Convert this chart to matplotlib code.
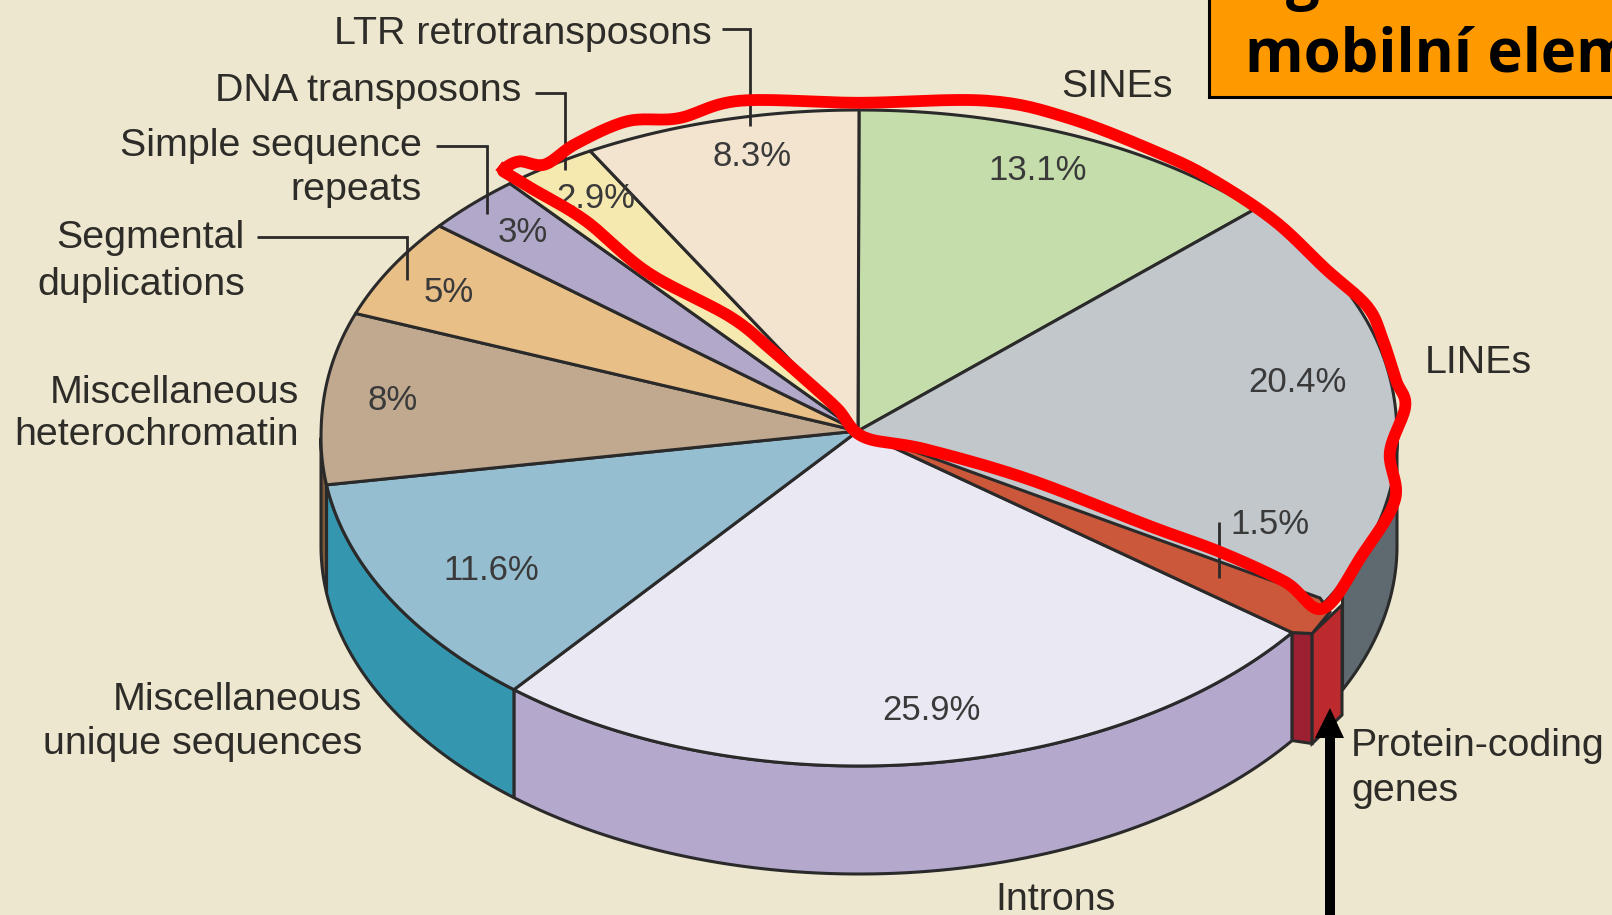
import numpy as np
import matplotlib
matplotlib.use("Agg")
import matplotlib.pyplot as plt
from matplotlib.patches import Polygon, Rectangle

# ---- data (clockwise from 12 o'clock) ----
categories = ["SINEs", "LINEs", "Protein-coding genes", "Introns", "Miscellaneous unique sequences",
              "Miscellaneous heterochromatin", "Segmental duplications", "Simple sequence repeats",
              "DNA transposons", "LTR retrotransposons"]
values = [13.1, 20.4, 1.5, 25.9, 11.6, 8, 5, 3, 2.9, 8.3]
value_labels = ["13.1%", "20.4%", "1.5%", "25.9%", "11.6%", "8%", "5%", "3%", "2.9%", "8.3%"]
top_colors = ["#C5DCAB", "#C1C7CB", "#CB583A", "#E9E8F3", "#96BED1",
              "#C0A98F", "#E9BF88", "#B2A8CA", "#F5E9B0", "#F3E4D0"]
side_colors = ["#C5DCAB", "#5F6A70", "#BC2A2D", "#B4A9CD", "#3496AF",
               "#7A5A3A", "#E9BF88", "#B2A8CA", "#F5E9B0", "#F3E4D0"]
pct_pos = [(1038, 170), (1297, 382), (1270, 525), (931, 710), (491, 571),
           (393, 400), (449, 293), (523, 232), (596, 198), (752, 156)]

# name, ha, x, y of each line
label_lines = [("LTR retrotransposons", "right", 712, 34), ("DNA transposons", "right", 521, 91),
               ("Simple sequence", "right", 422, 146), ("repeats", "right", 422, 190),
               ("Segmental", "right", 245, 238), ("duplications", "right", 245, 285),
               ("Miscellaneous", "right", 299, 393), ("heterochromatin", "right", 299, 435),
               ("Miscellaneous", "right", 362, 700), ("unique sequences", "right", 362, 744),
               ("SINEs", "left", 1061, 87), ("LINEs", "left", 1425, 363),
               ("Protein-coding", "left", 1351, 746), ("genes", "left", 1351, 791),
               ("Introns", "left", 995, 900)]
leaders = [[(722, 29), (750, 29), (750, 126)], [(535, 93), (565, 93), (565, 170)],
           [(436, 146), (487, 146), (487, 214)], [(257, 237), (407, 237), (407, 280)],
           [(1219, 522), (1219, 578)]]

# freehand red outline drawn over the picture
red_outline = np.array([(490, 165), (505, 157), (530, 160), (560, 140), (610, 118), (660, 115), (720, 98),
                        (835, 100), (960, 98), (1040, 115), (1130, 150), (1180, 175), (1240, 215), (1290, 262),
                        (1330, 298), (1345, 330), (1358, 370), (1367, 395), (1352, 440), (1357, 486), (1325, 540),
                        (1287, 592), (1250, 566), (1187, 537), (1119, 512), (1000, 466), (900, 437), (840, 425),
                        (815, 398), (790, 375), (750, 340), (710, 308), (630, 265), (570, 215), (520, 185),
                        (495, 170)], float) * 1.028

BG = "#EDE7CF"
INK = "#2B2A2A"
CX, CY, RX, RY, DEPTH = 859, 438, 538, 328, 108
APEX = (858, 431)
FONT = "Liberation Sans"

fig = plt.figure(figsize=(16.12, 9.15), dpi=100, facecolor=BG)
ax = fig.add_axes([0, 0, 1, 1])
ax.set_xlim(0, 1612)
ax.set_ylim(915, 0)
ax.axis("off")


def rim(deg, dy=0):
    t = np.radians(deg)
    c = np.cos(t)
    # the far half of the drawn disc bulges a little beyond a true ellipse
    v = np.where(c > 0, np.abs(c) ** 0.93, c)
    return np.column_stack([CX + RX * np.sin(t), CY - RY * v + dy])


edges = np.concatenate([[0], np.cumsum(values)]) / sum(values) * 360
PROTEIN = 2
WALL_END_LINES = 116.0   # where the LINEs wall meets the protein notch

# side walls
for i, (a, b) in enumerate(zip(edges[:-1], edges[1:])):
    lo, hi = max(a, 90), min(b, 270)
    if i == 1:
        hi = WALL_END_LINES
    if i == PROTEIN or hi <= lo:
        continue
    arc = np.linspace(lo, hi, 80)
    pts = np.vstack([rim(arc), rim(arc[::-1], DEPTH)])
    ax.add_patch(Polygon(pts, closed=True, fc=side_colors[i], ec=INK, lw=2.2, joinstyle="round", zorder=2))

# top faces
for i, (a, b) in enumerate(zip(edges[:-1], edges[1:])):
    if i == PROTEIN:
        continue
    arc = np.linspace(a, b, 120)
    pts = np.vstack([[APEX], rim(arc)])
    ax.add_patch(Polygon(pts, closed=True, fc=top_colors[i], ec=INK, lw=2.2, joinstyle="round", zorder=3))

# protein-coding wedge, which juts out of the rim
p_in = rim(edges[PROTEIN + 1])[0]
corner = (p_in[0] + 20, p_in[1] + 1)
p_out = (1342, 605)
ax.add_patch(Polygon([(p_in[0], p_in[1]), corner, (corner[0], corner[1] + DEPTH + 2), (p_in[0], p_in[1] + DEPTH)],
                     closed=True, fc="#9C2032", ec=INK, lw=2.2, zorder=4))
ax.add_patch(Polygon([corner, p_out, (p_out[0], p_out[1] + DEPTH + 2), (corner[0], corner[1] + DEPTH + 2)],
                     closed=True, fc=side_colors[PROTEIN], ec=INK, lw=2.2, zorder=4))
ax.add_patch(Polygon([APEX, (p_in[0], p_in[1]), corner, (1330, 612), (1320, 598)],
                     closed=True, fc=top_colors[PROTEIN], ec=INK, lw=2.2, zorder=5))

# leaders
for seg in leaders:
    s = np.array(seg)
    ax.plot(s[:, 0], s[:, 1], color=INK, lw=2, solid_joinstyle="miter", solid_capstyle="butt", zorder=6)

# percentage labels
for txt, (x, y) in zip(value_labels, pct_pos):
    ax.text(x, y, txt, ha="center", va="center", fontsize=25, family=FONT, color="#3A3A3A", zorder=7)

# names
for txt, ha, x, y in label_lines:
    ax.text(x, y, txt, ha=ha, va="center", fontsize=28.4, family=FONT, color="#2E2C28", zorder=7)

# freehand red outline (closed Catmull-Rom spline)
P = red_outline
n = len(P)
u = np.linspace(0, 1, 16, endpoint=False)[:, None]
curve = []
for k in range(n):
    p0, p1, p2, p3 = P[k - 1], P[k], P[(k + 1) % n], P[(k + 2) % n]
    curve.append(0.5 * (2 * p1 + (p2 - p0) * u + (2 * p0 - 5 * p1 + 4 * p2 - p3) * u ** 2
                        + (3 * p1 - p0 - 3 * p2 + p3) * u ** 3))
curve = np.vstack(curve + [curve[0][:1]])
ax.plot(curve[:, 0], curve[:, 1], color="#FF0000", lw=8.5, solid_joinstyle="round", zorder=8)

# black arrow
ax.add_patch(Polygon([(1330, 708), (1344, 738), (1335, 738), (1335, 915), (1325, 915), (1325, 738), (1315, 738)],
                     closed=True, fc="black", ec="none", zorder=9))

# orange title box, cut by the picture's edge
ax.add_patch(Rectangle((1209, -5), 420, 102, fc="#FF9900", ec="black", lw=2.2, zorder=9))
ax.text(1245, 56, "mobilní elem", ha="left", va="center", fontsize=43, family="Open Sans", weight="bold",
        color="black", zorder=10, clip_on=True)
ax.text(1303, -19, "g", ha="center", va="center", fontsize=43, family="Open Sans", weight="bold",
        color="black", zorder=10, clip_on=True)

fig.savefig("out.png", dpi=100, facecolor=BG)
